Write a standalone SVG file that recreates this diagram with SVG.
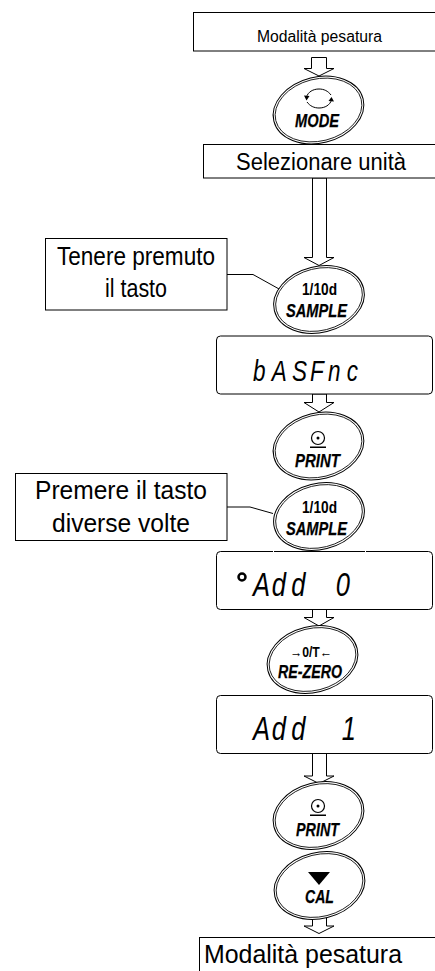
<svg xmlns="http://www.w3.org/2000/svg" width="435" height="971" viewBox="0 0 435 971">
<style>
text{font-family:"Liberation Sans",Arial,sans-serif;fill:#000}
.b{fill:#fff;stroke:#000;stroke-width:1}
.o{fill:#fff;stroke:#000;stroke-width:1}
.i{fill:none;stroke:#000;stroke-width:.8}
.k{font-weight:bold;font-style:italic;font-size:19px;stroke:#000;stroke-width:.25}
.t{font-weight:bold;font-size:17px}
.a{fill:#fff;stroke:#000;stroke-width:1}
.l{font-size:25px;text-anchor:middle}
.g{font-style:italic;font-size:34px}
</style>
<defs>
<g id="btn"><ellipse class="o" rx="46" ry="33" transform="rotate(-14)"/><ellipse class="i" rx="44" ry="31" transform="rotate(-14)"/></g>
<g id="pr"><circle cy="0" r="6.500" fill="none" stroke="#000" stroke-width="1.2"/><circle cy="0" r="1.500"/><rect x="-8" y="8.500" width="16" height="1.500"/></g>
</defs>
<g id="connectors">
<path class="a" d="M311.500 57.500H326.500V68.500H334L319 76L304 68.500H311.500Z"/>
<path class="a" d="M312.500 178H326.500V257.500H334L319 265.500L304 257.500H312.500Z"/>
<path class="a" d="M312.500 394H326.500V402.500H334L319 412L304 402.500H312.500Z"/>
<path class="a" d="M312.500 609H326.500V617.500H334L319 626L304 617.500H312.500Z"/>
<path class="a" d="M312.500 753H326.500V776H334L319 783.500L304 776H312.500Z"/>
<path class="a" d="M312.500 915H326.500V926H334L319 933.500L304 926H312.500Z"/>
<path fill="none" stroke="#000" d="M227 274.500H253L280 289.500"/>
<path fill="none" stroke="#000" d="M227 507H250L273 513.500"/>
</g>
<g id="top-box"><rect class="b" x="193.500" y="12.500" width="250" height="38.500"/><text x="319.500" y="42" font-size="16" text-anchor="middle" textLength="125" lengthAdjust="spacingAndGlyphs">Modalità pesatura</text></g>
<g id="mode"><use href="#btn" x="318.500" y="110"/><path fill="none" stroke="#000" d="M306.500 97C308 92 313 89 319 89C324 89 328 91 331 95M331.500 100C330 105 325 108 319 108C314 108 310 106 307 102"/><path d="M304 95.500L309.500 96L306.500 100.500ZM334 101.500L328.500 101L331.500 97Z"/><text class="k" x="295" y="127" textLength="44" lengthAdjust="spacingAndGlyphs">MODE</text></g>
<g id="select-box"><rect class="b" x="203.500" y="144.500" width="240" height="33.500"/><text x="321" y="170" font-size="23" text-anchor="middle" textLength="170" lengthAdjust="spacingAndGlyphs">Selezionare unità</text></g>
<g id="note-1"><rect class="b" x="45.500" y="238.500" width="181.500" height="71.500"/><text class="l" x="136" y="265" textLength="158" lengthAdjust="spacingAndGlyphs">Tenere premuto</text><text class="l" x="136" y="297" textLength="62" lengthAdjust="spacingAndGlyphs">il tasto</text></g>
<g id="sample-1"><use href="#btn" x="319" y="299.500"/><text class="t" x="302" y="295" textLength="35" lengthAdjust="spacingAndGlyphs">1/10d</text><text class="k" x="286" y="317" textLength="61" lengthAdjust="spacingAndGlyphs">SAMPLE</text></g>
<g id="display-1"><rect class="b" x="216.500" y="336" width="216" height="58" rx="4"/><g transform="translate(253 381) scale(.75 1)"><text class="g" style="font-size:30px" x="0 25 52 76 100 125" y="0">bASFnc</text></g></g>
<g id="print-1"><use href="#btn" x="318.500" y="446"/><use href="#pr" x="318" y="438"/><text class="k" x="295" y="467" textLength="45" lengthAdjust="spacingAndGlyphs">PRINT</text></g>
<g id="note-2"><rect class="b" x="15.500" y="473.500" width="211.500" height="67"/><text class="l" x="121" y="499" textLength="172" lengthAdjust="spacingAndGlyphs">Premere il tasto</text><text class="l" x="121" y="532" textLength="138" lengthAdjust="spacingAndGlyphs">diverse volte</text></g>
<g id="sample-2"><use href="#btn" x="319" y="516.500"/><text class="t" x="302" y="513" textLength="35" lengthAdjust="spacingAndGlyphs">1/10d</text><text class="k" x="286" y="535" textLength="61" lengthAdjust="spacingAndGlyphs">SAMPLE</text></g>
<g id="display-2"><rect class="b" x="216.500" y="551.500" width="216" height="58" rx="4"/><rect x="273" y="550" width="1" height="3" fill="#fff"/><rect x="365" y="550" width="1" height="3" fill="#fff"/><circle cx="242" cy="577" r="3.500" fill="none" stroke="#000" stroke-width="2.500"/><g transform="translate(253 596) scale(.75 1)"><text class="g" x="0 25 51 101" y="0">Add 0</text></g></g>
<g id="rezero"><use href="#btn" x="312.500" y="659.500"/><text class="t" style="font-size:14.500px" x="290" y="657" textLength="42" lengthAdjust="spacingAndGlyphs">→0/T←</text><text class="k" style="font-size:17.500px" x="278" y="678" textLength="64" lengthAdjust="spacingAndGlyphs">RE-ZERO</text></g>
<g id="display-3"><rect class="b" x="216.500" y="695.500" width="216" height="58" rx="4"/><g transform="translate(253 740) scale(.75 1)"><text class="g" x="0 25 51 109" y="0">Add 1</text></g></g>
<g id="print-2"><use href="#btn" x="318.500" y="815.500"/><use href="#pr" x="318" y="806"/><text class="k" x="296" y="836" textLength="43" lengthAdjust="spacingAndGlyphs">PRINT</text></g>
<g id="cal"><use href="#btn" x="319.500" y="885.500"/><path d="M308 872H330L319 885Z"/><text class="k" x="305" y="903" textLength="29" lengthAdjust="spacingAndGlyphs">CAL</text></g>
<g id="bottom-box"><rect class="b" x="199.500" y="937.500" width="250" height="50"/><text x="204" y="963" font-size="25" textLength="198" lengthAdjust="spacingAndGlyphs">Modalità pesatura</text></g>
</svg>
